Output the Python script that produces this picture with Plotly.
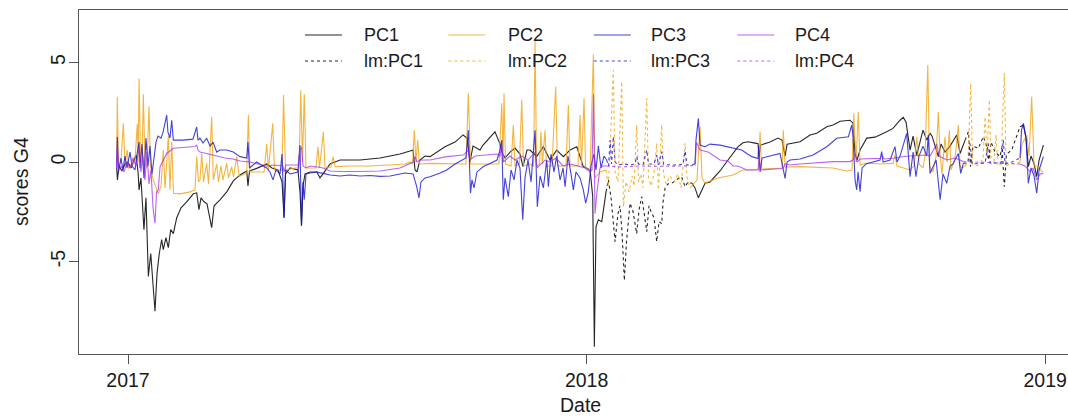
import plotly.graph_objects as go
import pandas as pd

BASE = pd.Timestamp("2017-01-01")

# Data: (day offset from 2017-01-01, score)
pc1_a = [(-9.0,-0.3),(-8.4,-0.9),(-7.2,-0.2),(-4.8,-0.45),(-2.4,-0.1),(0,0.0),(2.4,-0.3),(4.8,0.1),(6.4,0.35),(8.0,-0.5),(8.8,-1.4),(10.3,-0.8),(12.7,-3.4),(14.3,-1.8),(16.2,-5.75),(18.1,-4.6),(19.7,-5.8),(21.5,-7.5),(23.1,-5.6),(24.9,-4.6),(26.8,-3.9),(28.1,-4.4),(30.2,-3.8),(32.1,-4.3),(34.0,-3.4),(36.1,-3.6),(38.8,-2.8),(42.2,-2.3),(46.7,-2.0),(52.0,-1.6),(54.7,-1.55),(56.5,-2.4),(58.1,-1.8),(60.5,-2.0),(62.9,-2.1),(64.5,-2.6),(66.6,-3.3),(68.5,-2.2),(73.2,-1.9),(78.6,-1.5),(83.8,-0.95),(89.2,-0.65),(94.5,-0.45),(95.5,-1.2),(96.7,-0.45),(102.4,-0.32),(110.4,-0.1),(114.6,-0.3),(119.4,-0.4),(122.6,-1.0),(124.2,-2.8),(125.4,-0.6),(129.0,-0.3),(135.3,-0.4),(136.9,-1.5),(138.1,-3.2),(139.3,-1.2),(140.9,-0.6),(144.9,-0.5),(150.4,-0.5),(152.8,-0.8),(155.2,-0.6),(160.8,-0.1),(168.8,0.1),(176.7,0.1),(184.7,0.1),(192.6,0.15),(200.6,0.2),(208.6,0.3),(216.5,0.4),(224.5,0.55),(226.9,0.6),(228.5,-0.4),(230.0,-0.5),(232.4,0.1),(236.4,0.3),(240.4,0.27),(244.4,0.45),(252.3,0.77),(260.3,1.0),(266.7,1.36),(269.8,1.2),(272.2,0.0),(274.6,0.8),(280.2,0.6),(282.6,0.85),(288.2,1.27),(292.1,1.52),(296.1,0.9),(297.7,0.5),(300.1,0.2),(304.1,0.5),(308.1,0.7),(312.0,0.4),(314.4,-0.23),(317.6,0.6),(320.0,0.6),(325.3,0.27),(330.6,0.77),(335.9,0.1),(341.2,0.6),(346.5,0.27),(351.8,0.6),(357.2,0.77),(362.4,-0.23),(367.8,-0.4),(369.9,-1.74),(371.2,-9.28),(372.5,-3.25),(374.4,-2.9),(377.1,-3.0),(379.7,-1.9),(380.5,-1.5)]
pc1_b = [(448.9,-1.07),(451.3,-1.3),(454.0,-1.8),(456.1,-1.5),(459.3,-1.07),(463.3,-1.0),(467.3,-0.74),(471.2,-0.45),(477.6,0.1),(481.6,0.43),(485.6,0.77),(489.5,0.97),(493.5,1.02),(499.1,0.95),(501.5,0.92),(502.3,0.27),(503.5,0.85),(511.0,1.0),(517.4,1.2),(520.6,1.1),(523.0,0.3),(524.6,0.9),(534.9,1.02),(542.9,1.36),(548.2,1.45),(556.2,1.77),(561.2,1.86),(566.8,2.05),(574.7,2.1),(577.1,1.95),(578.7,0.43),(580.3,0.1),(582.7,0.6),(588.0,1.2),(594.6,1.25),(603.9,1.52),(608.9,1.69),(614.5,2.1),(617.1,2.24),(619.3,2.0),(621.1,1.3),(622.5,0.6),(624.9,1.3),(627.8,0.35),(630.4,1.0),(632.8,1.6),(635.8,1.1),(638.4,1.45),(640.0,1.3),(642.4,0.8),(645.0,0.27),(647.1,0.9),(650.3,0.5),(654.3,0.8),(657.0,1.1),(659.6,1.36),(662.3,0.43),(664.7,0.8),(666.3,1.1)]
pc1_c = [(710.0,1.77),(712.7,1.86),(714.8,1.2),(716.6,-0.23),(718.8,0.3),(721.2,-0.1),(723.3,-0.74),(725.2,0.1),(728.6,0.85)]
lm_pc1_a = [(380.5,-1.5),(382.3,-0.9),(384.5,-1.8),(387.7,-4.0),(390.0,-2.6),(391.6,-2.2),(393.2,-3.5),(395.1,-5.95),(396.8,-4.0),(399.6,-2.07),(402.0,-2.5),(404.9,-3.6),(406.8,-2.4),(408.9,-1.74),(410.7,-2.5),(412.9,-3.5),(414.7,-2.2),(416.3,-2.5),(418.7,-2.8),(420.8,-4.0),(422.7,-3.0),(424.8,-3.1),(425.9,-2.0),(427.5,-1.3),(429.8,-1.1),(432.8,-1.07),(436.2,-0.9),(440.7,-0.74),(443.4,-1.24),(445.8,-1.0),(448.9,-1.07)]
lm_pc1_b = [(666.3,1.1),(668.9,1.52),(670.6,-0.23),(672.6,0.8),(676.8,0.69),(680.8,1.27),(683.0,0.9),(684.8,0.1),(687.0,1.0),(690.1,0.5),(694.1,0.27),(695.7,0.8),(697.5,-1.24),(699.3,0.4),(703.4,0.6),(707.4,1.27),(710.0,1.77)]

pc2_a = [(-9.0,0.0),(-8.5,3.28),(-7.6,-0.2),(-5.6,0.0),(-3.7,1.95),(-2.4,-0.1),(-0.6,0.6),(0.4,-0.3),(3.2,-0.2),(5.6,0.1),(7.4,1.94),(8.1,0.0),(8.8,4.2),(10.0,0.2),(11.1,-0.2),(12.2,3.4),(13.5,0.0),(15.1,-0.3),(16.7,2.8),(17.9,-0.2),(20.1,-0.9),(22.3,-1.3),(24.1,-1.6),(26.3,-1.2),(28.1,0.6),(29.5,-1.3),(32.1,1.3),(33.4,-1.4),(34.8,1.0),(36.2,-1.57),(41.4,-1.6),(49.4,-1.5),(53.3,-1.4),(54.7,0.27),(56.1,-1.0),(57.3,-0.9),(58.7,0.43),(60.1,-1.0),(62.6,-0.07),(64.1,-1.1),(66.6,2.27),(67.9,-0.9),(70.6,-0.1),(72.0,-1.0),(74.0,-0.2),(75.6,-0.9),(78.6,-0.07),(80.0,-0.8),(82.5,-0.24),(84.0,-0.75),(86.5,0.27),(88.6,-0.73),(92.3,-0.6),(94.5,-0.55),(95.8,2.36),(97.1,-0.5),(105.1,-0.5),(108.3,-0.5),(110.4,0.9),(111.8,-0.4),(115.2,1.94),(116.6,-0.4),(122.6,-0.4),(123.8,3.37),(125.4,-0.4),(132.9,-0.3),(136.1,-0.3),(137.5,3.6),(138.9,0.0),(140.3,3.4),(141.7,-0.3),(149.6,-0.3),(151.2,0.77),(152.4,-0.3),(155.5,1.52),(156.8,-0.3),(161.6,-0.25),(163.2,0.27),(164.8,-0.23),(176.7,-0.2),(192.6,-0.2),(208.6,-0.15),(220.5,-0.1),(224.5,0.0),(226.5,-0.1),(227.9,1.6),(229.2,0.0),(230.6,1.1),(232.0,-0.1),(240.4,-0.07),(256.3,-0.07),(269.0,-0.1),(270.9,3.45),(272.6,-0.1),(280.2,-0.1),(288.2,-0.1),(295.3,-0.1),(297.5,2.95),(298.5,0.0),(299.3,3.45),(300.5,-0.1),(304.9,-0.2),(306.7,1.86),(308.1,-0.2),(311.6,-0.1),(313.4,3.12),(314.8,-0.2),(320.0,-0.1),(322.8,-0.2),(324.0,6.1),(325.2,-0.2),(327.6,-0.1),(328.7,1.52),(329.9,-0.1),(331.9,1.6),(333.1,-0.2),(337.5,-0.2),(340.4,3.78),(341.9,-0.2),(348.6,-0.2),(350.5,2.86),(351.8,-0.2),(358.2,-0.2),(359.8,2.36),(361.0,-0.2),(363.0,3.2),(364.2,-0.3),(367.8,-0.4),(370.4,5.4),(371.7,-0.8),(375.7,-0.5),(380.5,-0.4)]
pc2_b = [(448.9,-1.2),(452.9,-0.9),(455.3,1.77),(456.9,-0.8),(459.3,-1.07),(468.6,-0.82),(481.6,-0.65),(489.5,-0.4),(501.9,-0.38),(503.1,1.52),(504.3,-0.35),(515.0,-0.33),(520.6,-0.3),(521.6,1.6),(523.0,-0.25),(534.9,-0.23),(561.2,-0.3),(572.1,-0.45),(576.3,-0.4),(577.7,2.44),(579.5,0.0),(581.3,2.53),(582.7,-0.15),(588.0,-0.05),(598.6,-0.1),(608.9,-0.07),(610.5,0.35),(612.1,-0.2),(618.5,-0.3),(622.5,-0.4),(625.7,-0.2),(627.8,1.27),(629.6,-0.1),(632.8,-0.3),(634.4,0.3),(636.6,4.87),(638.0,-0.2),(640.8,-0.5),(643.2,0.3),(645.0,2.53),(646.4,0.3),(647.9,-0.6),(650.3,1.27),(651.9,0.0),(653.8,1.6),(655.1,-0.4),(658.3,0.2),(660.9,1.86),(662.3,-0.2),(663.9,-0.3),(666.3,-0.2)]
pc2_c = [(710.0,0.0),(711.6,0.9),(715.4,1.36),(717.2,0.3),(719.3,3.28),(721.2,-0.2),(724.4,-0.2),(727.3,-0.48),(728.6,-0.48)]
lm_pc2_a = [(380.5,-0.4),(382.3,-1.24),(383.7,0.5),(386.3,4.62),(387.7,-0.5),(390.0,-1.0),(393.0,4.04),(394.3,-2.25),(396.4,-1.0),(398.8,-1.5),(401.2,-0.7),(402.8,-1.2),(404.9,1.86),(406.4,-1.0),(408.3,-0.6),(409.9,-1.3),(412.9,3.2),(414.3,-0.8),(416.3,-1.2),(418.7,-0.6),(420.8,0.94),(422.3,-1.4),(424.8,1.86),(426.3,-0.6),(428.2,-1.1),(431.4,-0.7),(434.6,-1.0),(437.8,-0.6),(440.2,-1.3),(443.4,0.94),(445.0,-0.8),(447.4,-1.3),(448.9,-1.2)]
lm_pc2_b = [(666.3,-0.2),(668.6,0.0),(670.8,3.95),(672.2,-0.1),(675.0,-0.2),(678.2,-0.1),(680.6,0.2),(682.2,2.28),(683.8,0.3),(685.6,3.12),(687.0,-0.1),(689.3,0.0),(690.9,1.36),(692.5,-0.2),(694.9,-0.1),(697.5,4.47),(698.9,-0.2),(702.1,-0.1),(706.1,-0.1),(710.0,0.0)]

pc3_a = [(-9.0,-0.3),(-8.5,1.26),(-7.6,-0.5),(-5.6,0.2),(-4.0,-0.4),(-2.4,0.3),(-0.8,-0.3),(1.6,0.5),(3.2,-0.2),(5.6,-0.4),(7.2,0.4),(8.8,1.0),(9.6,-0.3),(11.1,0.9),(12.7,-0.8),(14.3,1.2),(15.9,-0.2),(17.5,0.8),(19.1,-0.6),(20.7,0.3),(22.3,1.0),(23.9,1.3),(26.3,1.2),(27.9,1.5),(30.8,2.36),(31.8,1.5),(33.4,1.2),(34.8,2.1),(36.1,1.1),(43.8,1.1),(51.7,1.15),(54.7,1.76),(55.7,1.1),(57.3,1.2),(59.7,0.95),(62.6,1.2),(65.3,0.8),(67.7,1.0),(70.6,0.5),(73.2,0.6),(78.6,0.6),(83.8,0.5),(89.2,0.27),(94.5,0.2),(95.5,1.0),(96.7,-0.3),(102.4,0.0),(107.5,-0.2),(110.4,-0.3),(113.0,-0.5),(115.4,-0.9),(117.8,-0.4),(121.0,-0.6),(122.6,0.4),(124.2,-2.8),(125.4,-0.4),(129.0,-0.6),(135.3,-0.5),(136.9,0.85),(138.1,-3.2),(139.3,-1.0),(140.3,-1.9),(141.7,-0.6),(144.9,-0.55),(150.4,-0.5),(155.2,-0.57),(160.8,-0.65),(168.8,-0.7),(176.7,-0.65),(184.7,-0.7),(192.6,-0.68),(200.6,-0.72),(208.6,-0.7),(216.5,-0.6),(220.5,-0.55),(226.9,-0.6),(229.8,-1.24),(231.6,-1.8),(233.2,-1.0),(236.4,-0.8),(240.4,-0.74),(248.4,-0.55),(253.7,-0.4),(260.3,-0.1),(266.7,0.1),(269.0,0.2),(270.9,1.6),(271.8,-0.3),(272.6,-1.57),(273.8,-0.9),(275.4,-1.3),(277.8,-0.5),(282.8,-0.23),(288.2,-0.07),(293.7,0.1),(296.1,0.6),(297.5,1.1),(298.7,-1.9),(300.1,-0.8),(302.7,-1.74),(304.9,-0.4),(307.3,-0.9),(309.6,0.1),(312.0,-0.3),(314.2,-2.9),(316.0,-0.8),(318.4,0.1),(320.8,-1.0),(324.0,1.6),(325.8,-2.25),(328.0,-0.7),(330.6,-1.3),(333.3,0.1),(334.6,-1.24),(336.7,0.4),(339.1,-0.5),(341.2,0.3),(343.9,-0.9),(346.3,-0.3),(347.9,-1.24),(350.2,0.3),(352.6,-0.6),(354.5,-1.4),(356.6,-0.5),(359.8,-0.8),(362.4,-1.4),(364.3,-2.07),(366.4,-1.5),(368.5,-0.2),(370.9,0.4),(372.5,-0.4),(374.4,0.8),(376.5,-0.3),(378.9,0.3),(381.0,0.1)]
pc3_b = [(451.3,-0.1),(452.1,1.1),(454.0,2.19),(455.3,0.85),(459.3,0.77),(463.3,0.9),(471.2,0.85),(481.6,0.69),(488.5,0.6),(492.5,0.43),(496.5,0.27),(501.5,0.18),(501.9,0.8),(503.1,-0.5),(504.7,0.2),(511.0,0.3),(519.0,0.43),(522.2,-0.57),(523.0,-0.82),(524.6,0.0),(527.0,0.1),(534.9,0.15),(545.3,0.35),(556.2,0.77),(564.1,1.19),(573.4,1.27),(576.1,1.86),(577.1,1.3),(578.7,-0.9),(580.0,-1.4),(581.1,-0.5),(582.7,-1.49),(584.3,-0.3),(587.4,-0.1),(592.2,0.0),(598.6,0.1),(599.9,0.52),(601.0,0.0),(606.6,0.1),(610.5,0.77),(612.1,0.0),(614.5,0.3),(619.8,1.44),(622.5,-0.74),(624.9,0.5),(627.2,-0.74),(629.6,0.3),(632.8,0.8),(635.8,0.3),(637.0,1.36),(638.4,-0.57),(640.8,-0.2),(643.2,0.1),(646.4,-1.9),(648.7,-0.6),(651.7,-1.07),(654.3,-0.2),(656.7,-0.1),(660.9,0.43),(662.8,-0.57),(664.9,-0.07)]
pc3_c = [(710.0,0.2),(711.2,1.6),(712.7,1.94),(714.8,1.2),(716.6,-1.07),(718.8,-0.3),(721.2,-0.7),(723.3,-1.57),(725.2,-0.4),(728.6,0.27)]
lm_pc3_a = [(381.0,0.1),(382.5,-0.2),(383.7,1.1),(384.9,-0.1),(386.3,1.27),(387.7,0.0),(390.0,-0.15),(394.8,-0.1),(399.6,-0.15),(403.6,-0.1),(404.9,0.27),(406.4,-0.1),(409.9,-0.15),(412.9,0.6),(414.3,-0.1),(418.7,-0.1),(420.8,0.35),(422.3,-0.15),(424.8,0.52),(426.3,-0.1),(431.4,-0.15),(437.8,-0.15),(441.8,-0.1),(443.4,0.55),(445.0,-0.15),(448.9,-0.15),(451.3,-0.1)]
lm_pc3_b = [(664.9,-0.07),(668.6,-0.05),(670.2,0.94),(671.8,-0.1),(682.2,-0.05),(684.8,0.94),(686.2,-0.05),(694.9,-0.05),(696.7,1.1),(698.1,-0.1),(703.7,0.0),(706.8,0.1),(710.0,0.2)]

pc4_a = [(-9.0,-0.25),(-8.5,0.8),(-7.6,-0.4),(-5.6,-0.2),(-3.2,-0.5),(-0.8,0.0),(1.6,-0.3),(4.0,0.2),(6.4,-0.2),(8.8,0.7),(10.3,-0.5),(11.9,0.3),(13.5,-0.9),(15.1,0.5),(16.7,-1.1),(18.3,-0.4),(19.9,-2.3),(21.5,-3.08),(22.7,-1.5),(24.1,-1.4),(25.5,-0.25),(27.9,0.1),(30.8,0.43),(36.1,0.69),(45.4,0.75),(53.3,0.78),(54.7,0.85),(55.7,0.6),(57.3,0.5),(61.3,0.45),(65.3,0.4),(70.6,0.3),(77.2,0.2),(83.6,0.15),(89.2,0.05),(97.1,0.0),(103.5,-0.1),(110.4,-0.2),(117.0,-0.15),(123.4,-0.2),(124.2,-0.5),(125.8,-0.15),(135.3,-0.15),(136.9,0.6),(138.1,0.77),(139.3,-0.2),(141.7,-0.3),(144.9,-0.2),(151.2,-0.25),(155.2,-0.3),(160.8,-0.45),(168.8,-0.48),(184.7,-0.48),(200.6,-0.45),(216.5,-0.3),(224.5,-0.1),(226.9,0.0),(228.5,0.27),(230.0,0.0),(232.4,0.1),(240.4,0.1),(253.7,0.27),(266.9,0.35),(270.9,0.6),(272.2,0.1),(276.2,0.3),(284.2,0.35),(293.5,0.4),(296.1,0.3),(297.5,0.8),(298.9,0.0),(304.1,0.3),(308.1,0.1),(313.6,0.3),(318.4,0.1),(324.0,0.5),(325.6,-0.3),(331.9,0.1),(335.9,0.0),(340.7,0.2),(346.3,-0.2),(351.8,-0.1),(358.2,-0.2),(363.8,-0.3),(367.8,-0.5),(369.3,-0.4),(370.5,3.4),(371.7,-2.6),(373.3,-1.5),(375.7,-0.3),(378.1,-0.2),(380.5,-0.2)]
pc4_b = [(451.3,-0.18),(452.5,1.0),(455.3,0.6),(461.7,0.5),(471.2,0.1),(477.6,0.05),(481.6,-0.2),(485.6,-0.2),(492.5,-0.4),(501.5,-0.4),(502.3,0.3),(503.5,-0.4),(515.0,-0.35),(521.4,-0.33),(523.0,-0.1),(527.0,-0.15),(534.9,-0.1),(548.2,-0.03),(561.2,0.02),(574.7,0.02),(577.1,0.1),(578.7,0.43),(580.3,0.0),(582.7,0.15),(590.6,0.15),(598.6,0.18),(600.2,0.35),(601.8,0.15),(610.5,0.2),(614.5,0.25),(622.5,0.3),(630.4,0.35),(635.8,0.35),(638.4,0.3),(643.7,0.9),(645.6,0.3),(651.7,0.1),(658.3,0.2),(664.9,0.02)]
pc4_c = [(710.0,-0.1),(714.0,-0.2),(718.0,-0.5),(720.4,-0.3),(723.3,-0.9),(726.0,-0.6),(728.6,-0.57)]
lm_pc4_a = [(380.5,-0.2),(391.6,-0.25),(407.6,-0.2),(423.5,-0.22),(439.4,-0.2),(451.3,-0.18)]
lm_pc4_b = [(664.9,0.02),(678.2,0.0),(694.1,-0.05),(710.0,-0.1)]

series_names = ["PC1", "PC2", "PC3", "PC4"]
lm_names = ["lm:PC1", "lm:PC2", "lm:PC3", "lm:PC4"]
x_tick_dates = ["2017-01-01", "2018-01-01", "2019-01-01"]
x_tick_text = ["2017", "2018", "2019"]
y_tick_vals = [-5, 0, 5]

colors = ["rgba(0,0,0,0.85)", "rgba(240,165,20,0.82)", "rgba(20,20,210,0.8)", "rgba(160,40,235,0.72)"]


def to_xy(*segs):
    xs, ys = [], []
    for i, seg in enumerate(segs):
        if i:
            xs.append(None)
            ys.append(None)
        for d, v in seg:
            xs.append(BASE + pd.Timedelta(days=d))
            ys.append(v)
    return xs, ys


solid = [(pc1_a, pc1_b, pc1_c), (pc2_a, pc2_b, pc2_c), (pc3_a, pc3_b, pc3_c), (pc4_a, pc4_b, pc4_c)]
dashed = [(lm_pc1_a, lm_pc1_b), (lm_pc2_a, lm_pc2_b), (lm_pc3_a, lm_pc3_b), (lm_pc4_a, lm_pc4_b)]

fig = go.Figure()
for name, segs, col in zip(series_names, solid, colors):
    x, y = to_xy(*segs)
    fig.add_trace(go.Scatter(x=x, y=y, mode="lines", name=name, connectgaps=False,
                             line=dict(color=col, width=1.1), showlegend=False))
for name, segs, col in zip(lm_names, dashed, colors):
    x, y = to_xy(*segs)
    fig.add_trace(go.Scatter(x=x, y=y, mode="lines", name=name, connectgaps=False,
                             line=dict(color=col, width=1.1, dash="3px,3px"), showlegend=False))

# layout geometry (pixels)
W, H = 1068, 418
L, R, T, B = 79, 1068, 10, 354


def pxx(p):
    return (p - L) / (R - L)


def pxy(p):
    return (B - p) / (B - T)


FONT = "Liberation Sans, Arial, Helvetica, sans-serif"
TXT = "#1a1a1a"
AX = "#555555"

shapes = []
annotations = []
leg_line_start = [305, 448.4, 593.8, 737.3]
leg_text_start = [362.3, 505.8, 649.3, 792.8]
for i in range(4):
    for row_y, dash, label in ((35, "solid", series_names[i]), (61, "3px,3px", lm_names[i])):
        shapes.append(dict(type="line", xref="paper", yref="paper",
                           x0=pxx(leg_line_start[i]), x1=pxx(leg_line_start[i] + 37),
                           y0=pxy(row_y), y1=pxy(row_y),
                           line=dict(color=colors[i], width=1.1, dash=dash)))
        annotations.append(dict(text=label, xref="paper", yref="paper",
                                x=pxx(leg_text_start[i]), y=pxy(row_y),
                                xanchor="left", yanchor="middle", showarrow=False,
                                font=dict(family=FONT, size=18, color=TXT)))

annotations.append(dict(text="scores G4", xref="paper", yref="paper", x=pxx(21), y=pxy(182),
                        textangle=-90, showarrow=False, xanchor="center", yanchor="middle",
                        font=dict(family=FONT, size=19.5, color=TXT)))
annotations.append(dict(text="Date", xref="paper", yref="paper", x=pxx(580), y=pxy(405),
                        showarrow=False, xanchor="center", yanchor="middle",
                        font=dict(family=FONT, size=19.5, color=TXT)))

x0 = BASE + pd.Timedelta(days=-39.0)
x1 = BASE + pd.Timedelta(days=748.2)

fig.update_layout(
    width=W, height=H, autosize=False,
    margin=dict(l=L, r=W - R, t=T, b=H - B, pad=0),
    paper_bgcolor="white", plot_bgcolor="white",
    showlegend=False,
    shapes=shapes, annotations=annotations,
    font=dict(family=FONT, size=19.5, color=TXT),
    xaxis=dict(type="date", range=[x0, x1], tickvals=x_tick_dates, ticktext=x_tick_text,
               showgrid=False, zeroline=False, showline=True, linecolor=AX, linewidth=1,
               mirror=True, ticks="outside", ticklen=9, tickcolor=AX, tickwidth=1,
               tickfont=dict(family=FONT, size=19.5, color=TXT)),
    yaxis=dict(range=[-9.65, 7.64], tickvals=y_tick_vals, ticktext=["-5", "0", "5"],
               showgrid=False, zeroline=False, showline=True, linecolor=AX, linewidth=1,
               ticks="outside", ticklen=9, tickcolor=AX, tickwidth=1, tickangle=-90,
               ticklabelstandoff=-4,
               tickfont=dict(family=FONT, size=19.5, color=TXT)),
)

fig.write_html("out.html", config={"displayModeBar": False, "staticPlot": True},
               post_script="document.body.style.margin='0px';document.body.style.overflow='hidden';")
